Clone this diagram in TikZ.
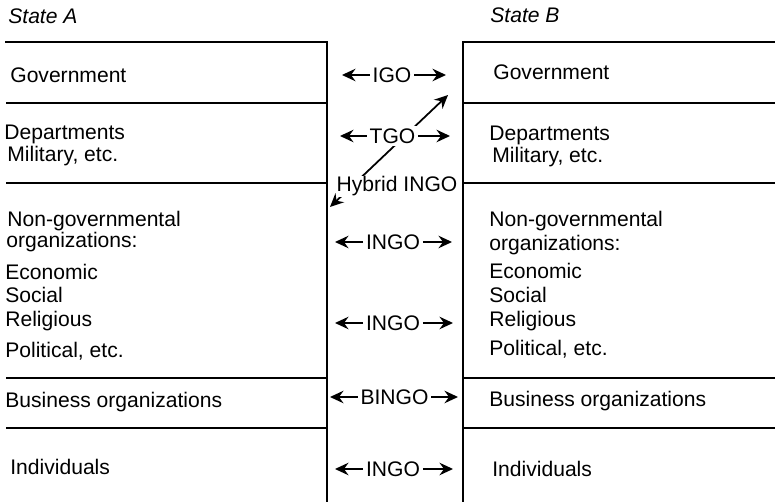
\documentclass[tikz,border=0pt]{standalone}
\usepackage{fontspec}
\setmainfont{Liberation Sans}
\usetikzlibrary{arrows.meta}

\begin{document}
\begin{tikzpicture}[x=0.02cm,y=-0.02cm,
		every node/.style={font=\fontsize{12}{14}\selectfont},
		row/.style={anchor=base west,inner sep=0pt},
		link/.style={fill=white,inner sep=1.5pt},
		rule/.style={line width=1.1pt},
		>={Stealth[length=2.7mm,width=2.5mm,inset=0.9mm]}]
		\useasboundingbox (0,0) rectangle (775,502);
		
		% the two states
		\draw[rule] (5,42) -- (327,42) -- (327,502);
		\draw[rule] (775,42) -- (463,42) -- (463,502);
		\foreach \y in {103,183,378,428} {
			\draw[rule] (6,\y) -- (327,\y);
			\draw[rule] (463,\y) -- (775,\y);
		}
		
		\node[row] (a_state) at (8,24) {\itshape State A};
		\node[row] (a_gov) at (10,83) {Government};
		\node[row] (a_dep) at (4,140) {Departments};
		\node[row] (a_mil) at (7,162) {Military, etc.};
		\node[row] (a_ngo) at (7,227) {Non-governmental};
		\node[row] (a_org) at (6,248) {organizations:};
		\node[row] (a_eco) at (5,280) {Economic};
		\node[row] (a_soc) at (5,303) {Social};
		\node[row] (a_rel) at (5,327) {Religious};
		\node[row] (a_pol) at (5,358) {Political, etc.};
		\node[row] (a_bus) at (5,408) {Business organizations};
		\node[row] (a_ind) at (10,475) {Individuals};
		
		\node[row] (b_state) at (490,23) {\itshape State B};
		\node[row] (b_gov) at (493,80) {Government};
		\node[row] (b_dep) at (489,141) {Departments};
		\node[row] (b_mil) at (492,163) {Military, etc.};
		\node[row] (b_ngo) at (489,227) {Non-governmental};
		\node[row] (b_org) at (489,251) {organizations:};
		\node[row] (b_eco) at (489,279) {Economic};
		\node[row] (b_soc) at (489,303) {Social};
		\node[row] (b_rel) at (489,327) {Religious};
		\node[row] (b_pol) at (489,356) {Political, etc.};
		\node[row] (b_bus) at (489,407) {Business organizations};
		\node[row] (b_ind) at (492,477) {Individuals};
		
		% hybrid link, cut by the labels drawn on top
		\coordinate (hy_l) at (330,207);
		\coordinate (hy_r) at (448,95);
		\draw[<->,line width=1pt] (hy_l) -- (hy_r);
		
		% links between the states
		\node[link] (igo) at (392,75) {IGO};
		\node[link] (tgo) at (392.5,136) {TGO};
		\node[link,inner sep=0.3pt,anchor=base] (hybrid) at (397,192) {Hybrid INGO};
		\node[link] (ingo_1) at (393,242) {INGO};
		\node[link] (ingo_2) at (393,323) {INGO};
		\node[link] (bingo) at (394.5,397) {BINGO};
		\node[link] (ingo_3) at (393,469) {INGO};
		
		\coordinate (igo_l) at (342,75);    \coordinate (igo_r) at (446,75);
		\coordinate (tgo_l) at (340,136);   \coordinate (tgo_r) at (450,136);
		\coordinate (ingo_1l) at (335,242); \coordinate (ingo_1r) at (452,242);
		\coordinate (ingo_2l) at (335,323); \coordinate (ingo_2r) at (453,323);
		\coordinate (bingo_l) at (330,397); \coordinate (bingo_r) at (458,397);
		\coordinate (ingo_3l) at (335,469); \coordinate (ingo_3r) at (453,469);
		
		\path[->,line width=1pt]
		(igo) edge (igo_l)
		      edge (igo_r)
		(tgo) edge (tgo_l)
		      edge (tgo_r)
		(ingo_1) edge (ingo_1l)
		         edge (ingo_1r)
		(ingo_2) edge (ingo_2l)
		         edge (ingo_2r)
		(bingo) edge (bingo_l)
		        edge (bingo_r)
		(ingo_3) edge (ingo_3l)
		         edge (ingo_3r)
		;
\end{tikzpicture}
\end{document}
